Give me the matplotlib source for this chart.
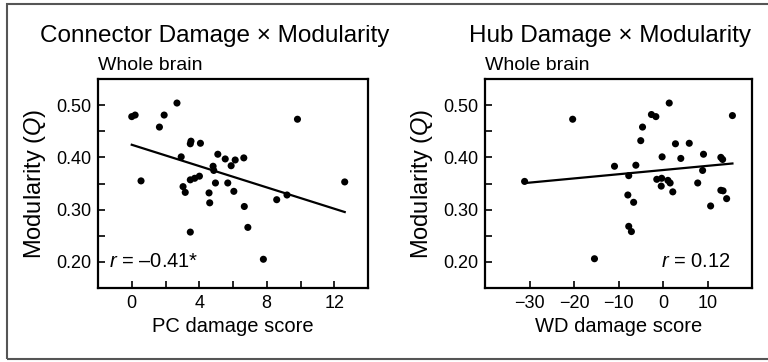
import numpy as np
import matplotlib
matplotlib.use('Agg')
import matplotlib.pyplot as plt
from matplotlib.patches import Rectangle

plt.rcParams['font.family'] = ['Liberation Sans', 'DejaVu Sans']
plt.rcParams['mathtext.fontset'] = 'custom'
plt.rcParams['mathtext.rm'] = 'Liberation Sans'
plt.rcParams['mathtext.it'] = 'Liberation Sans:italic'

# connector (PC) damage vs modularity
pc_score = [0.0, 0.2, 2.68, 1.92, 1.64, 9.82, 0.55, 3.51, 3.47, 4.07, 2.93, 5.10,
            5.54, 6.13, 6.64, 5.89, 4.82, 4.86, 3.47, 3.73, 4.01, 3.04, 3.17, 4.96,
            5.69, 6.05, 4.58, 4.62, 6.67, 8.59, 9.20, 12.62, 6.88, 3.47, 7.80]
pc_q = [0.478, 0.481, 0.504, 0.481, 0.458, 0.473, 0.355, 0.431, 0.426, 0.427, 0.401,
        0.406, 0.397, 0.395, 0.399, 0.384, 0.383, 0.375, 0.357, 0.360, 0.364, 0.344,
        0.333, 0.351, 0.351, 0.335, 0.332, 0.313, 0.306, 0.319, 0.328, 0.353, 0.266,
        0.257, 0.205]

# hub (WD) damage vs modularity
wd_score = [-31.1, -20.3, -15.4, -10.9, -7.7, -7.9, -6.6, -7.7, -7.1, -6.1, -5.0,
            -4.6, -2.6, -1.6, 1.4, -0.2, -1.4, -0.3, -0.4, 1.1, 1.6, 2.2, 2.8, 4.0,
            5.9, 7.8, 8.9, 9.1, 10.7, 13.0, 13.4, 13.0, 13.5, 14.3, 15.6]
wd_q = [0.354, 0.473, 0.206, 0.383, 0.365, 0.328, 0.314, 0.268, 0.258, 0.385, 0.432,
        0.458, 0.482, 0.478, 0.504, 0.401, 0.358, 0.360, 0.345, 0.356, 0.351, 0.334,
        0.426, 0.398, 0.427, 0.351, 0.375, 0.406, 0.307, 0.400, 0.396, 0.337, 0.336,
        0.321, 0.480]

titles = ['Connector Damage \u00d7 Modularity', 'Hub Damage \u00d7 Modularity']
xlabels = ['PC damage score', 'WD damage score']
r_texts = ['$r$ = \u20130.41*', '$r$ = 0.12']

fig = plt.figure(figsize=(7.68, 3.62), dpi=100)
ax1 = fig.add_axes([98/768, 1-288/362, 270/768, 209/362])
ax2 = fig.add_axes([485/768, 1-288/362, 267/768, 209/362])


def draw(ax, x, y, xlab):
    x = np.array(x)
    y = np.array(y)
    ax.scatter(x, y, s=26, color='black', edgecolors='none', zorder=3)
    m, b = np.polyfit(x, y, 1)
    xs = np.array([x.min(), x.max()])
    ax.plot(xs, m*xs + b, color='black', lw=1.6)
    ax.set_ylim(0.15, 0.55)
    ax.set_yticks([0.2, 0.3, 0.4, 0.5])
    ax.set_yticks([0.25, 0.35, 0.45], minor=True)
    ax.set_yticklabels(['0.20', '0.30', '0.40', '0.50'])
    ax.tick_params(which='both', direction='in', length=5, width=1.2,
                   labelsize=13, pad=5)
    for s in ax.spines.values():
        s.set_linewidth(1.6)
    ax.set_xlabel(xlab, fontsize=14.5, labelpad=4)
    ax.set_ylabel('Modularity ($Q$)', fontsize=17, labelpad=6)


draw(ax1, pc_score, pc_q, xlabels[0])
ax1.set_xlim(-2, 14)
ax1.set_xticks([0, 4, 8, 12])
ax1.set_xticks([2, 6, 10], minor=True)
ax1.text(0.04, 0.20, r_texts[0], transform=ax1.get_yaxis_transform(),
         fontsize=14.5, va='center', ha='left')

draw(ax2, wd_score, wd_q, xlabels[1])
ax2.set_xlim(-40, 20)
ax2.set_xticks([-30, -20, -10, 0, 10])
ax2.text(0.92, 0.20, r_texts[1], transform=ax2.get_yaxis_transform(),
         fontsize=14.5, va='center', ha='right')

fig.text(215/768, 1-36/362, titles[0], fontsize=17.5, ha='center', va='center')
fig.text(610/768, 1-36/362, titles[1], fontsize=17.5, ha='center', va='center')
fig.text(98/768, 1-66/362, 'Whole brain', fontsize=14, ha='left', va='center')
fig.text(485/768, 1-66/362, 'Whole brain', fontsize=14, ha='left', va='center')

fig.patches.append(Rectangle((7/768, 3/362), 1.2, 355/362, transform=fig.transFigure,
                             fill=False, edgecolor='#555555', lw=1.5))

fig.savefig('out.png', dpi=100)
